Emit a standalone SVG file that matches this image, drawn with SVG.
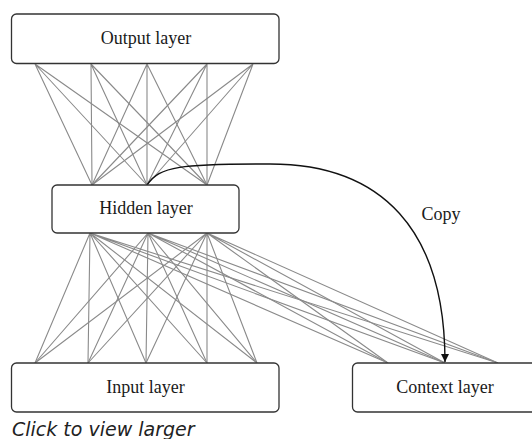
<svg xmlns="http://www.w3.org/2000/svg" width="532" height="439" viewBox="0 0 532 439">
  <style>
    .box { fill: #fff; stroke: #333; stroke-width: 1.3; }
    .lbl { font-family: "Liberation Serif", "Times New Roman", serif; font-size: 18px; fill: #1a1a1a; text-anchor: middle; }
    .w { stroke: #8a8a8a; stroke-width: 1.1; fill: none; }
    .copy { stroke: #111; stroke-width: 1.4; fill: none; }
    .caption { font-family: "DejaVu Sans", sans-serif; font-style: italic; font-size: 19px; fill: #222; }
  </style>
  <defs>
    <marker id="head" viewBox="0 0 10 10" refX="10" refY="5" markerWidth="10" markerHeight="8" markerUnits="userSpaceOnUse" orient="auto">
      <path d="M0,0 L10,5 L0,10 Z" fill="#111"/>
    </marker>
  </defs>

  <g id="connectors">
    <!-- output layer to hidden layer -->
    <g class="w">
      <path d="M35,64 L92,185 M35,64 L147,185 M35,64 L207,185"/>
      <path d="M91,64 L92,185 M91,64 L147,185 M91,64 L207,185"/>
      <path d="M147,64 L92,185 M147,64 L147,185 M147,64 L207,185"/>
      <path d="M207,64 L92,185 M207,64 L147,185 M207,64 L207,185"/>
      <path d="M253,64 L92,185 M253,64 L147,185 M253,64 L207,185"/>
    </g>
    <!-- hidden layer to input layer -->
    <g class="w">
      <path d="M90,233 L35,363 M90,233 L88,363 M90,233 L146,363 M90,233 L207,363 M90,233 L257,363"/>
      <path d="M148,233 L35,363 M148,233 L88,363 M148,233 L146,363 M148,233 L207,363 M148,233 L257,363"/>
      <path d="M207,233 L35,363 M207,233 L88,363 M207,233 L146,363 M207,233 L207,363 M207,233 L257,363"/>
    </g>
    <!-- hidden layer to context layer -->
    <g class="w">
      <path d="M90,233 L388,363 M90,233 L445,363 M90,233 L498,363"/>
      <path d="M148,233 L388,363 M148,233 L445,363 M148,233 L498,363"/>
      <path d="M207,233 L388,363 M207,233 L445,363 M207,233 L498,363"/>
    </g>
    <!-- copy connection -->
    <path class="copy" d="M147,185 C160,166 180,164 270,164 C382,164 445,230 445,362" marker-end="url(#head)"/>
    <text class="lbl" x="441" y="220">Copy</text>
  </g>

  <g id="output-layer">
    <rect class="box" x="11.5" y="14" width="267.5" height="49.5" rx="5"/>
    <text class="lbl" x="146" y="44">Output layer</text>
  </g>
  <g id="hidden-layer">
    <rect class="box" x="52" y="185" width="187" height="48" rx="5"/>
    <text class="lbl" x="146" y="214">Hidden layer</text>
  </g>
  <g id="input-layer">
    <rect class="box" x="11.5" y="363" width="267.5" height="49" rx="5"/>
    <text class="lbl" x="145.5" y="393">Input layer</text>
  </g>
  <g id="context-layer">
    <rect class="box" x="352.5" y="363" width="200" height="49" rx="5"/>
    <text class="lbl" x="445" y="393">Context layer</text>
  </g>

  <text class="caption" x="12" y="436">Click to view larger</text>
</svg>
